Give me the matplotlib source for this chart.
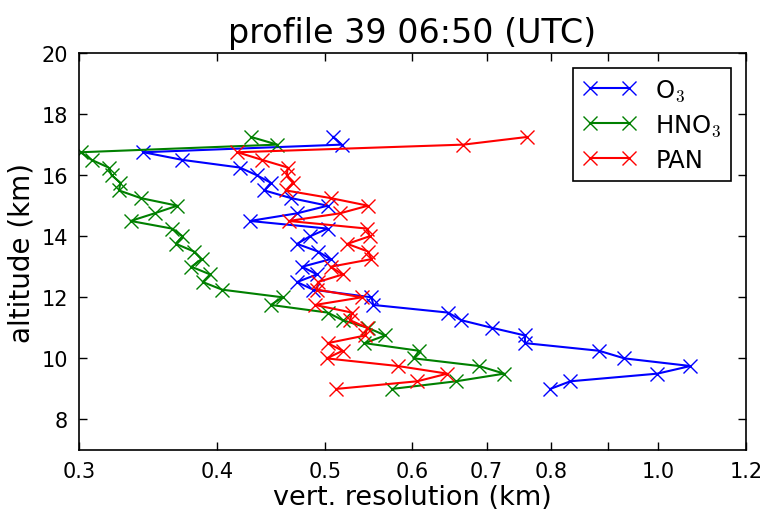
import numpy as np
import matplotlib
matplotlib.use("Agg")
import matplotlib.pyplot as plt
from matplotlib.ticker import FixedLocator, FixedFormatter, NullLocator

plt.rcParams['mathtext.fontset'] = 'cm'
plt.rcParams['xtick.direction'] = 'in'
plt.rcParams['ytick.direction'] = 'in'

# altitude levels (km), bottom to top
alt = [9.0, 9.25, 9.5, 9.75, 10.0, 10.25, 10.5, 10.75, 11.0, 11.25, 11.5, 11.75,
       12.0, 12.25, 12.5, 12.75, 13.0, 13.25, 13.5, 13.75, 14.0, 14.25, 14.5, 14.75,
       15.0, 15.25, 15.5, 15.75, 16.0, 16.25, 16.5, 16.75, 17.0, 17.25]

o3 = [0.799, 0.833, 0.998, 1.069, 0.932, 0.884, 0.758, 0.758, 0.708, 0.664, 0.646, 0.553,
      0.551, 0.488, 0.472, 0.492, 0.477, 0.506, 0.493, 0.472, 0.485, 0.503, 0.428, 0.472,
      0.503, 0.466, 0.441, 0.447, 0.434, 0.419, 0.372, 0.343, 0.518, 0.509]

hno3 = [0.575, 0.657, 0.726, 0.689, 0.602, 0.608, 0.543, 0.567, 0.547, 0.519, 0.503, 0.447,
        0.458, 0.404, 0.388, 0.394, 0.379, 0.387, 0.381, 0.367, 0.372, 0.364, 0.334, 0.351,
        0.368, 0.341, 0.326, 0.327, 0.321, 0.319, 0.308, 0.301, 0.453, 0.429]

pan = [0.512, 0.606, 0.645, 0.582, 0.502, 0.519, 0.503, 0.544, 0.546, 0.527, 0.529, 0.490,
       0.540, 0.492, 0.493, 0.519, 0.506, 0.551, 0.547, 0.524, 0.549, 0.546, 0.464, 0.516,
       0.547, 0.506, 0.461, 0.468, 0.462, 0.463, 0.439, 0.417, 0.667, 0.761]

xticks = [0.3, 0.4, 0.5, 0.6, 0.7, 0.8, 0.9, 1.0, 1.2]
xticklabels = ['0.3', '0.4', '0.5', '0.6', '0.7', '0.8', '', '1.0', '1.2']

fig = plt.figure(figsize=(7.69, 5.10), dpi=100)
ax = fig.add_axes([0.1027, 0.1157, 0.8674, 0.7784])

ax.plot(o3, alt, 'b-x', label='O$_3$', lw=1.5, ms=10, mew=1)
ax.plot(hno3, alt, 'g-x', label='HNO$_3$', lw=1.5, ms=10, mew=1)
ax.plot(pan, alt, 'r-x', label='PAN', lw=1.5, ms=10, mew=1)

ax.set_xscale('log')
ax.set_xlim(0.3, 1.2)
ax.set_ylim(7, 20)
ax.xaxis.set_major_locator(FixedLocator(xticks))
ax.xaxis.set_major_formatter(FixedFormatter(xticklabels))
ax.xaxis.set_minor_locator(NullLocator())
ax.set_yticks([8, 10, 12, 14, 16, 18, 20])

ax.tick_params(which='major', length=6, width=1, labelsize=15, top=True, right=True, pad=8)
for s in ax.spines.values():
    s.set_linewidth(1.2)

ax.set_xlabel('vert. resolution (km)', fontsize=19.5, labelpad=2)
ax.set_ylabel('altitude (km)', fontsize=20, labelpad=4)
ax.set_title('profile 39 06:50 (UTC)', fontsize=24, pad=8)

leg = ax.legend(loc='upper right', numpoints=2, fontsize=17.5, fancybox=False,
                framealpha=1, edgecolor='black', handlelength=2.2, borderpad=0.4,
                labelspacing=0.4, borderaxespad=0.6)
leg.get_frame().set_linewidth(1.2)

fig.savefig('out.png', dpi=100)
